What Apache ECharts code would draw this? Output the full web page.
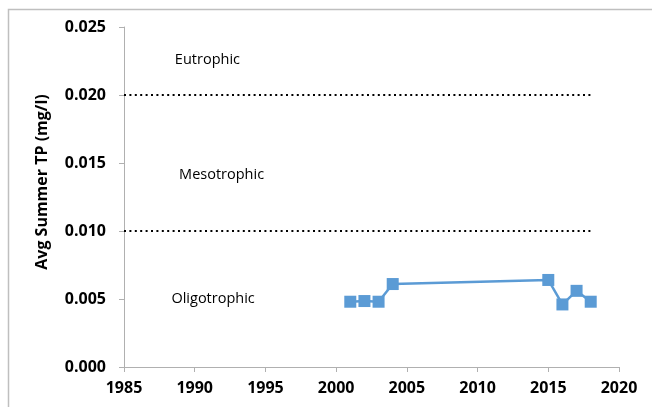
<!DOCTYPE html>
<html>
<head>
    <meta charset="UTF-8">
    <title>Avg Summer TP</title>
    <script src="https://cdn.jsdelivr.net/npm/echarts@6/dist/echarts.min.js"></script>
    <style>
        html, body { margin: 0; padding: 0; background: #fff; }
        #chart { width: 652px; height: 407px; }
    </style>
</head>
<body>
<div id="chart"></div>
<script type="text/javascript">
    // data
    var years = [2001, 2002, 2003, 2004, 2015, 2016, 2017, 2018];
    var tpValues = [0.0048, 0.00485, 0.0048, 0.0061, 0.0064, 0.0046, 0.0056, 0.0048];

    // trophic thresholds (dotted lines)
    var thresholds = [0.020, 0.010];
    var thresholdFrom = 1985;
    var thresholdTo = 2018;

    // zone labels
    var zoneNames = ['Eutrophic', 'Mesotrophic', 'Oligotrophic'];
    var zoneX = [1990.9, 1991.9, 1991.3];
    var zoneY = [0.0226, 0.0141, 0.0050];

    var font = '"Open Sans", "Liberation Sans", sans-serif';

    var tpData = [];
    for (var i = 0; i < years.length; i++) {
        tpData.push([years[i], tpValues[i]]);
    }
    var zoneData = [];
    for (var j = 0; j < zoneNames.length; j++) {
        zoneData.push({ value: [zoneX[j], zoneY[j]], name: zoneNames[j] });
    }

    var series = [];
    for (var k = 0; k < thresholds.length; k++) {
        series.push({
            type: 'line',
            data: [[thresholdFrom, thresholds[k]], [thresholdTo, thresholds[k]]],
            symbol: 'none',
            silent: true,
            lineStyle: { color: '#000', width: 2, type: [2, 3.4], cap: 'butt' },
            z: 1
        });
    }
    series.push({
        type: 'scatter',
        data: zoneData,
        symbolSize: 0,
        silent: true,
        itemStyle: { opacity: 1 },
        label: {
            show: true,
            position: 'inside',
            formatter: function (p) { return p.name; },
            color: '#000',
            opacity: 1,
            fontFamily: font,
            fontSize: 14.5
        }
    });
    series.push({
        name: 'TP',
        type: 'line',
        data: tpData,
        symbol: 'rect',
        symbolSize: 12,
        itemStyle: { color: '#5b9bd5' },
        lineStyle: { color: '#5b9bd5', width: 2.5 },
        z: 3
    });

    var option = {
        animation: false,
        grid: { left: 124, right: 33, top: 27, bottom: 40 },
        xAxis: {
            type: 'value',
            min: 1985,
            max: 2020,
            interval: 5,
            splitLine: { show: false },
            axisLine: { lineStyle: { color: '#b0b0b0', width: 1 } },
            axisTick: { show: true, length: 5, lineStyle: { color: '#b0b0b0' } },
            axisLabel: {
                margin: 13,
                color: '#000',
                fontWeight: 'bold',
                fontSize: 16,
                fontFamily: font,
                formatter: function (v) { return String(v); }
            }
        },
        yAxis: {
            type: 'value',
            min: 0,
            max: 0.025,
            interval: 0.005,
            splitLine: { show: false },
            axisLine: { show: true, lineStyle: { color: '#b0b0b0', width: 1 } },
            axisTick: { show: true, length: 5, lineStyle: { color: '#b0b0b0' } },
            axisLabel: {
                margin: 18,
                color: '#000',
                fontWeight: 'bold',
                fontSize: 16,
                fontFamily: font,
                formatter: function (v) { return v.toFixed(3); }
            }
        },
        graphic: [
            {
                type: 'rect',
                left: 6,
                top: 7,
                shape: { width: 700, height: 450 },
                style: { fill: 'none', stroke: '#bfbfbf', lineWidth: 1.5 },
                silent: true,
                z: -10
            },
            {
                type: 'text',
                x: 42,
                y: 182,
                rotation: Math.PI / 2,
                style: {
                    text: 'Avg Summer TP (mg/l)',
                    fill: '#000',
                    font: 'bold 16px ' + font,
                    textAlign: 'center',
                    textVerticalAlign: 'middle'
                }
            }
        ],
        series: series
    };
    echarts.init(document.getElementById('chart')).setOption(option);
</script>
</body>
</html>
